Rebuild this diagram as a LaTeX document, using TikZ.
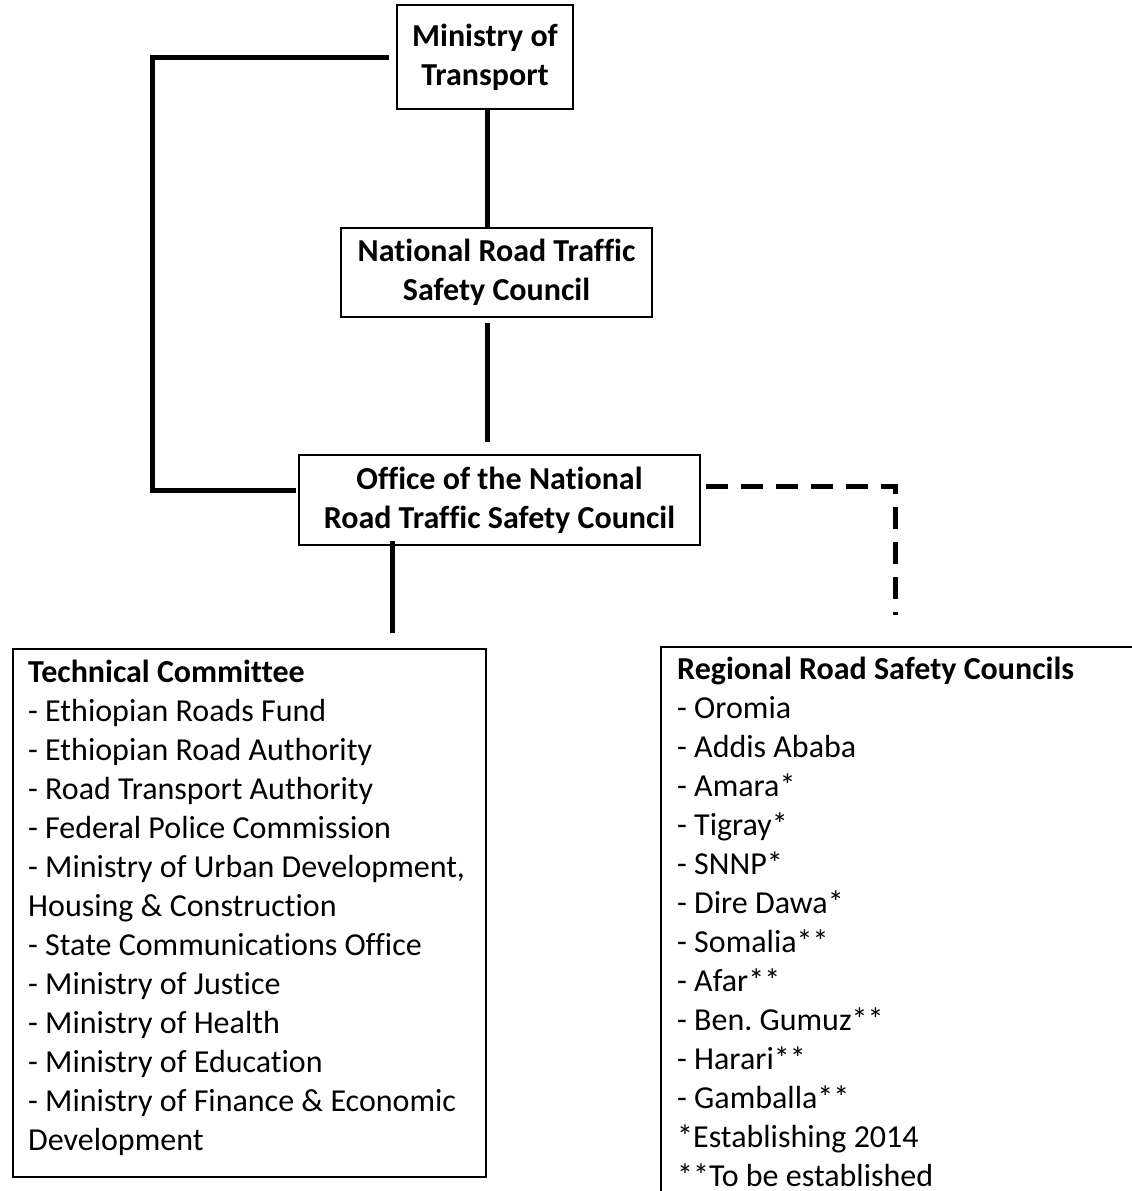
\documentclass[tikz,border=0pt]{standalone}
\usepackage{fontspec}
\setmainfont{Carlito}[Ligatures=NoCommon]
\usetikzlibrary{calc}
\frenchspacing
\begin{document}
\begin{tikzpicture}[x=1pt,y=-1pt,
  box/.style={draw,line width=2.2pt,inner sep=0pt,align=center,font=\fontsize{32}{39}\selectfont\bfseries},
  listbox/.style={draw,line width=2.2pt,inner sep=0pt,anchor=north west},
  listtext/.style={inner sep=0pt,anchor=north west,align=left,font=\fontsize{32}{39}\selectfont},
  conn/.style={line width=5pt},
  dconn/.style={line width=5pt,dash pattern=on 22pt off 13pt}]
\useasboundingbox (0,0) rectangle (1132,1191);
\node[box,minimum width=176pt,minimum height=104pt] (mot) at (485,57) {Ministry of\\Transport};
\node[box,minimum width=311pt,minimum height=89pt] (nrtsc) at (496.5,272.5) {National Road Traffic\\Safety Council};
\node[box,minimum width=401pt,minimum height=90pt] (office) at (499.5,500) {Office of the National\\Road Traffic Safety Council};
\node[listbox,minimum width=473pt,minimum height=528pt] (tech) at (12,648) {};
\node[listbox,minimum width=490pt,minimum height=560pt] (reg) at (660,646) {};
\node[listtext] (techtxt) at (28,660) {\textbf{Technical Committee}\\
- Ethiopian Roads Fund\\
- Ethiopian Road Authority\\
- Road Transport Authority\\
- Federal Police Commission\\
- Ministry of Urban Development,\\
Housing \& Construction\\
- State Communications Office\\
- Ministry of Justice\\
- Ministry of Health\\
- Ministry of Education\\
- Ministry of Finance \& Economic\\
Development};
\node[listtext] (regtxt) at (677,657) {\textbf{Regional Road Safety Councils}\\
- Oromia\\
- Addis Ababa\\
- Amara*\\
- Tigray*\\
- SNNP*\\
- Dire Dawa*\\
- Somalia**\\
- Afar**\\
- Ben. Gumuz**\\
- Harari**\\
- Gamballa**\\
*Establishing 2014\\
**To be established};
% connectors
\draw[conn] ([xshift=-7pt]mot.west) -| (152,490) -- ([xshift=-2pt,yshift=10pt]office.west);
\draw[conn] ([xshift=2pt]mot.south) -- ([xshift=2pt]mot.south |- nrtsc.north);
\coordinate (c1) at ($(nrtsc.south)+(-9.5,5)$);
\draw[conn] (c1) -- (c1 |- 0,442);
\coordinate (c2) at ($(office.south)+(-107.5,-5)$);
\draw[conn] (c2) -- ([yshift=15pt]c2 |- tech.north);
\coordinate (dend) at (895,615);
\draw[dconn] ([xshift=5pt,yshift=14pt]office.east) -| (dend);
\end{tikzpicture}
\end{document}
